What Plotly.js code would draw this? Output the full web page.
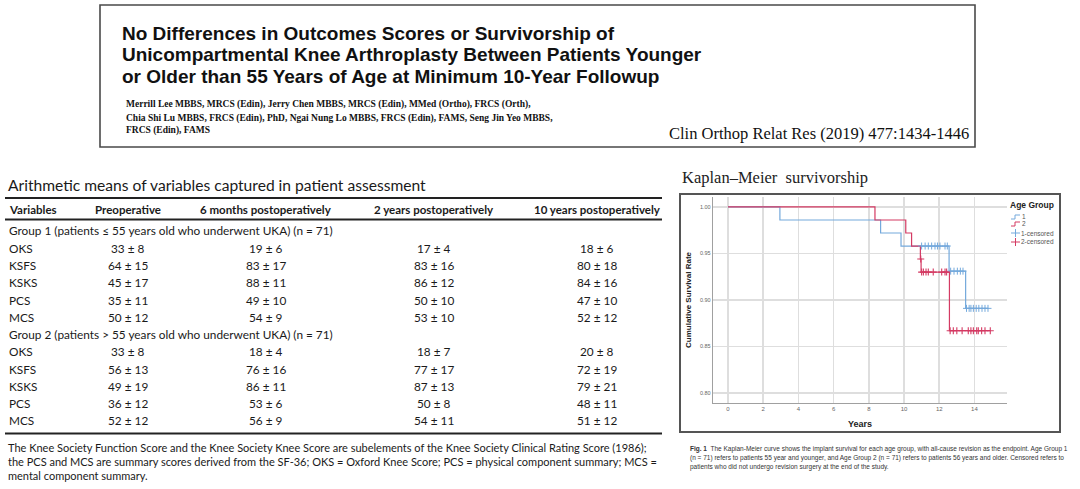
<!DOCTYPE html>
<html>
<head>
<meta charset="utf-8">
<script src="https://cdn.plot.ly/plotly-3.0.1.min.js"></script>
<style>
  html, body { margin: 0; padding: 0; background: #ffffff; }
  #chart { width: 1080px; height: 489px; }
</style>
</head>
<body>
<div id="chart"></div>
<script>
// ---------------- DATA ----------------
const paperTitleLines = [
  "No Differences in Outcomes Scores or Survivorship of",
  "Unicompartmental Knee Arthroplasty Between Patients Younger",
  "or Older than 55 Years of Age at Minimum 10-Year Followup"
];
const authorLines = [
  "Merrill Lee MBBS, MRCS (Edin), Jerry Chen MBBS, MRCS (Edin), MMed (Ortho), FRCS (Orth),",
  "Chia Shi Lu MBBS, FRCS (Edin), PhD, Ngai Nung Lo MBBS, FRCS (Edin), FAMS, Seng Jin Yeo MBBS,",
  "FRCS (Edin), FAMS"
];
const journalRef = "Clin Orthop Relat Res (2019) 477:1434-1446";

const tableTitle = "Arithmetic means of variables captured in patient assessment";
const tableHeaderFirst = "Variables";
const timepoints = ["Preoperative", "6 months postoperatively", "2 years postoperatively", "10 years postoperatively"];
const variables = ["OKS", "KSFS", "KSKS", "PCS", "MCS"];
const groupLabels = [
  "Group 1 (patients \u2264 55 years old who underwent UKA) (n = 71)",
  "Group 2 (patients > 55 years old who underwent UKA) (n = 71)"
];
const group1Means = [[33, 19, 17, 18], [64, 83, 83, 80], [45, 88, 86, 84], [35, 49, 50, 47], [50, 54, 53, 52]];
const group1SD    = [[8, 6, 4, 6], [15, 17, 16, 18], [17, 11, 12, 16], [11, 10, 10, 10], [12, 9, 10, 12]];
const group2Means = [[33, 18, 18, 20], [56, 76, 77, 72], [49, 86, 87, 79], [36, 53, 50, 48], [52, 56, 54, 51]];
const group2SD    = [[8, 4, 7, 8], [13, 16, 17, 19], [19, 11, 13, 21], [12, 6, 8, 11], [12, 9, 11, 12]];
const tableFootnote = [
  "The Knee Society Function Score and the Knee Society Knee Score are subelements of the Knee Society Clinical Rating Score (1986);",
  "the PCS and MCS are summary scores derived from the SF-36; OKS = Oxford Knee Score; PCS = physical component summary; MCS =",
  "mental component summary."
];

const kmTitle = "Kaplan\u2013Meier  survivorship";
const legendTitle = "Age Group";
const seriesNames = ["1", "2", "1-censored", "2-censored"];
// Group 1 (Age Group 1) Kaplan-Meier steps
const g1EventTimes = [0, 2.95, 8.67, 9.83, 12.56, 13.5];
const g1Survival   = [1.000, 0.986, 0.972, 0.958, 0.931, 0.891];
const g1FollowUpEnd = 14.77;
const g1CensorTimes = [11.0, 11.2, 11.38, 11.57, 11.76, 11.9, 12.04, 12.33, 12.46,
                       12.65, 12.84, 13.03, 13.2, 13.35,
                       13.55, 13.7, 13.8, 13.94, 14.1, 14.25, 14.43, 14.6, 14.77];
const g1CensorSurv  = [0.958, 0.958, 0.958, 0.958, 0.958, 0.958, 0.958, 0.958, 0.958,
                       0.931, 0.931, 0.931, 0.931, 0.931,
                       0.891, 0.891, 0.891, 0.891, 0.891, 0.891, 0.891, 0.891, 0.891];
// Group 2 (Age Group 2)
const g2EventTimes = [0, 8.35, 10.1, 10.43, 10.93, 10.97, 12.58];
const g2Survival   = [1.000, 0.986, 0.972, 0.958, 0.944, 0.930, 0.867];
const g2FollowUpEnd = 14.9;
const g2CensorTimes = [10.95,
                       11.0, 11.1, 11.25, 11.38, 11.66, 12.14, 12.33, 12.42,
                       12.62, 12.8, 13.0, 13.3, 13.65, 13.8, 13.94, 14.13, 14.22, 14.41, 14.6, 14.9];
const g2CensorSurv  = [0.944,
                       0.930, 0.930, 0.930, 0.930, 0.930, 0.930, 0.930, 0.930,
                       0.867, 0.867, 0.867, 0.867, 0.867, 0.867, 0.867, 0.867, 0.867, 0.867, 0.867, 0.867];
const xTickVals = [0, 2, 4, 6, 8, 10, 12, 14];
const yTickVals = [0.80, 0.85, 0.90, 0.95, 1.00];
const xAxisTitle = "Years";
const yAxisTitle = "Cumulative Survival Rate";
const figCaption = [
  "<b>Fig. 1</b>  The Kaplan-Meier curve shows the implant survival for each age group, with all-cause revision as the endpoint. Age Group 1",
  "(n = 71) refers to patients 55 year and younger, and Age Group 2 (n = 71) refers to patients 56 years and older. Censored refers to",
  "patients who did not undergo revision surgery at the end of the study."
];

// ---------------- LAYOUT HELPERS ----------------
const W = 1080, H = 489;
const fx = v => v / W;
const fy = v => 1 - v / H;
const BLUE = "#74a9dc", RED = "#d43a63";
const annotations = [];
const shapes = [];
function addText(text, x, y, font, xanchor) {
  annotations.push({
    text: text, x: fx(x), y: fy(y), xref: "paper", yref: "paper",
    xanchor: xanchor || "left", yanchor: "middle", showarrow: false,
    font: font, borderpad: 0
  });
}
function addLine(x0, y0, x1, y1, color, width) {
  shapes.push({ type: "line", xref: "paper", yref: "paper",
    x0: fx(x0), y0: fy(y0), x1: fx(x1), y1: fy(y1),
    line: { color: color, width: width } });
}

// Header box
shapes.push({ type: "rect", xref: "paper", yref: "paper",
  x0: fx(100), y0: fy(147), x1: fx(975), y1: fy(5),
  line: { color: "#4a4a4a", width: 1.6 }, fillcolor: "rgba(0,0,0,0)" });
const titleFont = { family: "'Liberation Sans', Arial, sans-serif", size: 19, color: "#111111" };
[33, 54.5, 76].forEach((y, i) => addText("<b>" + paperTitleLines[i] + "</b>", 121, y, titleFont));
const authorFont = { family: "'Liberation Serif', 'DejaVu Serif', serif", size: 9.5, color: "#111111" };
[105, 118, 131].forEach((y, i) => addText("<b>" + authorLines[i] + "</b>", 125, y, authorFont));
addText(journalRef, 668, 133, { family: "'Liberation Serif', serif", size: 16.5, color: "#111111" });

// Table
const tFont = { family: "Lato, 'Open Sans', sans-serif", size: 11.8, color: "#1a1a1a" };
const tBold = { family: "Lato, 'Open Sans', sans-serif", size: 11.5, color: "#1a1a1a" };
addText(tableTitle, 7, 185, { family: "Lato, 'Open Sans', sans-serif", size: 15.6, color: "#1a1a1a" });
addLine(5, 198, 662, 198, "#222222", 1.8);
addLine(5, 219.5, 662, 219.5, "#222222", 1.8);
addLine(5, 433.5, 662, 433.5, "#222222", 1.8);
const colCenters = [128, 266, 434, 597];
addText("<b>" + tableHeaderFirst + "</b>", 8, 209, tBold);
timepoints.forEach((t, j) => addText("<b>" + t + "</b>", colCenters[j], 209, tBold, "center"));
const rowY = i => 231 + i * 17.25;
let r = 0;
[[group1Means, group1SD], [group2Means, group2SD]].forEach((g, gi) => {
  addText(groupLabels[gi], 8, rowY(r), tFont); r++;
  variables.forEach((v, vi) => {
    addText(v, 8, rowY(r), tFont);
    g[0][vi].forEach((m, j) => addText(m + " \u00b1 " + g[1][vi][j], colCenters[j], rowY(r), tFont, "center"));
    r++;
  });
});
[447, 461, 475].forEach((y, i) => addText(tableFootnote[i], 7, y, { family: "Lato, 'Open Sans', sans-serif", size: 11.0, color: "#1a1a1a" }));

// KM panel
addText(kmTitle, 681, 177, { family: "'Liberation Serif', serif", size: 16.5, color: "#222222" });
shapes.push({ type: "rect", xref: "paper", yref: "paper",
  x0: fx(680), y0: fy(432), x1: fx(1060), y1: fy(194),
  line: { color: "#555555", width: 2 }, fillcolor: "rgba(0,0,0,0)" });
addText("<b>" + xAxisTitle + "</b>", 860, 424, { family: "'Liberation Sans', Arial, sans-serif", size: 9, color: "#222" }, "center");
annotations.push({ text: "<b>" + yAxisTitle + "</b>", x: fx(688), y: fy(300), xref: "paper", yref: "paper",
  textangle: -90, showarrow: false, xanchor: "center", yanchor: "middle",
  font: { family: "'Liberation Sans', Arial, sans-serif", size: 8, color: "#222" } });

// Legend (custom, compact)
addText("<b>" + legendTitle + "</b>", 1009, 205, { family: "'Liberation Sans', Arial, sans-serif", size: 8.5, color: "#222" });
const legFont = { family: "'Liberation Sans', Arial, sans-serif", size: 6.5, color: "#555" };
const legY = [217, 224, 233, 242];
const legCol = [BLUE, RED, BLUE, RED];
legY.forEach((y, i) => {
  if (i < 2) {
    addLine(1011, y + 2, 1015, y + 2, legCol[i], 1);
    addLine(1015, y + 2, 1015, y - 2, legCol[i], 1);
    addLine(1015, y - 2, 1020, y - 2, legCol[i], 1);
    addText(seriesNames[i], 1021, y, legFont);
  } else {
    addLine(1011, y, 1020, y, legCol[i], 1);
    addLine(1015.5, y - 4, 1015.5, y + 4, legCol[i], 1);
    addText(seriesNames[i], 1020, y, legFont);
  }
});

// Caption
const capFont = { family: "'Liberation Sans', Arial, sans-serif", size: 6.5, color: "#333" };
[449, 458, 467].forEach((y, i) => addText(figCaption[i], 689, y, capFont));

// ---------------- TRACES ----------------
const traces = [
  { x: g1EventTimes.concat([g1FollowUpEnd]), y: g1Survival.concat([g1Survival[g1Survival.length - 1]]),
    type: "scatter", mode: "lines", line: { shape: "hv", color: BLUE, width: 1.2 }, name: seriesNames[0] },
  { x: g2EventTimes.concat([g2FollowUpEnd]), y: g2Survival.concat([g2Survival[g2Survival.length - 1]]),
    type: "scatter", mode: "lines", line: { shape: "hv", color: RED, width: 1.2 }, name: seriesNames[1] },
  { x: g1CensorTimes, y: g1CensorSurv, type: "scatter", mode: "markers", name: seriesNames[2],
    marker: { symbol: "cross-thin", size: 5, color: BLUE, line: { color: BLUE, width: 1 } } },
  { x: g2CensorTimes, y: g2CensorSurv, type: "scatter", mode: "markers", name: seriesNames[3],
    marker: { symbol: "cross-thin", size: 5, color: RED, line: { color: RED, width: 1.1 } } }
];

const layout = {
  width: W, height: H,
  margin: { l: 0, r: 0, t: 0, b: 0 },
  paper_bgcolor: "#ffffff", plot_bgcolor: "#ffffff",
  showlegend: false,
  xaxis: {
    domain: [fx(713), fx(1007)], range: [-0.85, 15.85],
    tickvals: xTickVals, ticks: "", showgrid: true, gridcolor: "#dedede", gridwidth: 1.5,
    zeroline: false, showline: true, linecolor: "#a0a0a0", linewidth: 1.2,
    tickfont: { family: "'Liberation Sans', Arial, sans-serif", size: 6, color: "#666" },
    fixedrange: true
  },
  yaxis: {
    domain: [fy(403), fy(197)], range: [0.7893, 1.0107],
    tickvals: yTickVals, tickformat: ".2f", ticks: "", showgrid: true, gridcolor: "#dedede", gridwidth: 1.5,
    zeroline: false, showline: true, linecolor: "#a0a0a0", linewidth: 1.2,
    tickfont: { family: "'Liberation Sans', Arial, sans-serif", size: 5.5, color: "#666" },
    fixedrange: true
  },
  annotations: annotations,
  shapes: shapes
};

Plotly.newPlot("chart", traces, layout, { displayModeBar: false, staticPlot: true });
</script>
</body>
</html>
